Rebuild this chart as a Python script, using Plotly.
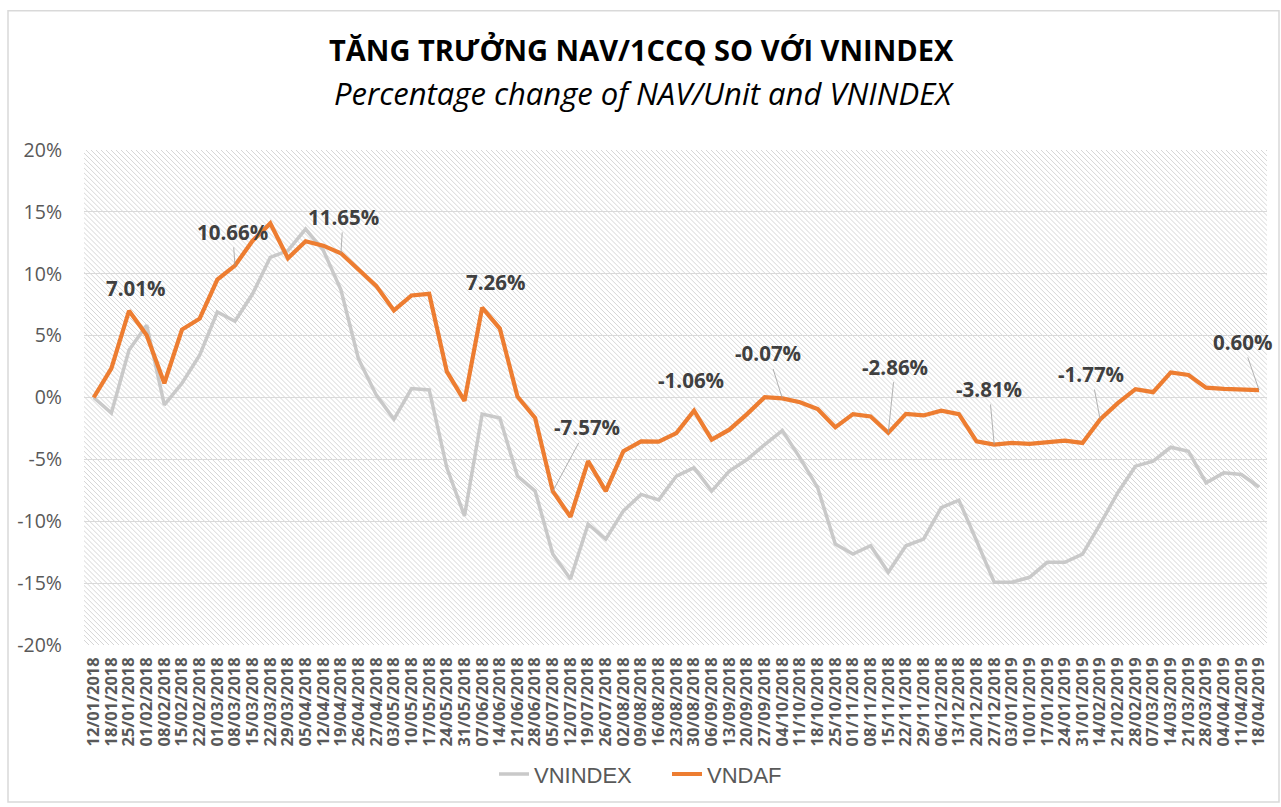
import plotly.graph_objects as go
import urllib.parse

dates = ["12/01/2018","18/01/2018","25/01/2018","01/02/2018","08/02/2018","15/02/2018","22/02/2018",
         "01/03/2018","08/03/2018","15/03/2018","22/03/2018","29/03/2018","05/04/2018","12/04/2018",
         "19/04/2018","26/04/2018","27/04/2018","03/05/2018","10/05/2018","17/05/2018","24/05/2018",
         "31/05/2018","07/06/2018","14/06/2018","21/06/2018","28/06/2018","05/07/2018","12/07/2018",
         "19/07/2018","26/07/2018","02/08/2018","09/08/2018","16/08/2018","23/08/2018","30/08/2018",
         "06/09/2018","13/09/2018","20/09/2018","27/09/2018","04/10/2018","11/10/2018","18/10/2018",
         "25/10/2018","01/11/2018","08/11/2018","15/11/2018","22/11/2018","29/11/2018","06/12/2018",
         "13/12/2018","20/12/2018","27/12/2018","03/01/2019","10/01/2019","17/01/2019","24/01/2019",
         "31/01/2019","14/02/2019","21/02/2019","28/02/2019","07/03/2019","14/03/2019","21/03/2019",
         "28/03/2019","04/04/2019","11/04/2019","18/04/2019"]

vnindex = [0.00, -1.26, 3.83, 5.84, -0.59, 1.15, 3.42, 6.91, 6.16, 8.38, 11.33, 11.87, 13.61, 11.90,
           8.70, 3.10, 0.21, -1.76, 0.72, 0.61, -5.68, -9.57, -1.34, -1.66, -6.35, -7.56, -12.65,
           -14.66, -10.24, -11.45, -9.16, -7.83, -8.27, -6.35, -5.68, -7.56, -5.95, -5.01, -3.81,
           -2.68, -4.88, -7.29, -11.85, -12.65, -11.98, -14.12, -11.98, -11.45, -8.90, -8.30,
           -11.58, -14.93, -14.93, -14.53, -13.32, -13.32, -12.65, -10.24, -7.69, -5.55, -5.14,
           -4.02, -4.34, -6.89, -6.09, -6.22, -7.23]

vndaf = [0.00, 2.36, 7.01, 5.03, 1.15, 5.49, 6.37, 9.53, 10.66, 12.67, 14.07, 11.25, 12.63, 12.27,
         11.65, 10.37, 9.02, 7.04, 8.25, 8.38, 2.09, -0.27, 7.26, 5.57, 0.08, -1.66, -7.57, -9.65,
         -5.14, -7.56, -4.34, -3.54, -3.57, -2.87, -1.06, -3.41, -2.60, -1.34, 0.02, -0.07, -0.38,
         -0.94, -2.41, -1.34, -1.53, -2.86, -1.32, -1.45, -1.07, -1.34, -3.54, -3.81, -3.67, -3.75,
         -3.59, -3.48, -3.67, -1.77, -0.46, 0.67, 0.43, 2.03, 1.82, 0.80, 0.69, 0.61, 0.60]

yticks = [20, 15, 10, 5, 0, -5, -10, -15, -20]

# labelled points of VNDAF and where their labels sit (index units / percent)
label_idx = [2, 8, 14, 22, 26, 34, 39, 45, 51, 57, 66]
label_ax = [2.36, 7.87, 14.13, 22.74, 27.94, 33.82, 38.2, 45.39, 50.71, 56.51, 65.06]
label_ay = [8.84, 13.39, 14.6, 9.37, -2.41, 1.41, 3.56, 2.49, 0.69, 1.9, 4.5]
label_leader = [False, True, True, False, True, False, True, True, True, True, True]

x = list(range(len(dates)))

FONT = "Open Sans"

# plot-area pixel geometry
L, R, T, B = 84, 14, 150, 159
PW, PH = 1281 - L - R, 807 - T - B

# diagonal hatch background as svg
step = 5
lines = []
for k in range(-PH, PW + PH, step):
    lines.append(f'<line x1="{k}" y1="0" x2="{k+PH}" y2="{PH}"/>')
svg = (f'<svg xmlns="http://www.w3.org/2000/svg" width="{PW}" height="{PH}" viewBox="0 0 {PW} {PH}" preserveAspectRatio="none">'
       f'<rect width="{PW}" height="{PH}" fill="white"/>'
       f'<g stroke="#d6d6d6" stroke-width="1">' + "".join(lines) + '</g></svg>')
svg_uri = "data:image/svg+xml;charset=utf-8," + urllib.parse.quote(svg)


def px_x(px):
    return (px - L) / PW


def px_y(py):
    return (T + PH - py) / PH


fig = go.Figure()
fig.add_trace(go.Scatter(x=x, y=vnindex, mode="lines", name="VNINDEX",
                         line=dict(color="#C9C9C9", width=3.5)))
fig.add_trace(go.Scatter(x=x, y=vndaf, mode="lines", name="VNDAF",
                         line=dict(color="#ED7D31", width=4.2)))

annotations = []
lab_font = dict(family=FONT, size=20.5, color="#404040", weight="bold")
for i, ax_, ay_, lead in zip(label_idx, label_ax, label_ay, label_leader):
    txt = f"{vndaf[i]:.2f}%"
    if lead:
        annotations.append(dict(x=i, y=vndaf[i], ax=ax_, ay=ay_, axref="x", ayref="y",
                                xref="x", yref="y", text=txt, showarrow=True, arrowhead=0,
                                arrowwidth=0.8, arrowcolor="#a0a0a0", standoff=0, font=lab_font))
    else:
        annotations.append(dict(x=ax_, y=ay_, xref="x", yref="y", text=txt, showarrow=False,
                                font=lab_font))

annotations.append(dict(x=px_x(641.5), y=px_y(49), xref="paper", yref="paper", showarrow=False,
                        xanchor="center", yanchor="middle",
                        text="<b>TĂNG TRƯỞNG NAV/1CCQ SO VỚI VNINDEX</b>",
                        font=dict(family=FONT, size=29, color="#000000")))
annotations.append(dict(x=px_x(643.5), y=px_y(93), xref="paper", yref="paper", showarrow=False,
                        xanchor="center", yanchor="middle",
                        text="<i>Percentage change of NAV/Unit and VNINDEX</i>",
                        font=dict(family=FONT, size=31, color="#000000")))

fig.update_layout(
    width=1281, height=807,
    margin=dict(l=L, r=R, t=T, b=B),
    paper_bgcolor="white", plot_bgcolor="rgba(0,0,0,0)",
    showlegend=True,
    legend=dict(orientation="h", x=px_x(494), xanchor="left", y=px_y(778), yanchor="middle",
                font=dict(family="Liberation Sans Narrow, Liberation Sans", size=22, color="#595959"),
                entrywidth=128, entrywidthmode="pixels", tracegroupgap=0,
                bgcolor="rgba(0,0,0,0)"),
    annotations=annotations,
    images=[dict(source=svg_uri, xref="paper", yref="paper", x=0, y=1, sizex=1, sizey=1,
                 xanchor="left", yanchor="top", sizing="stretch", layer="below")],
    shapes=[dict(type="rect", xref="paper", yref="paper",
                 x0=px_x(8), x1=px_x(1279), y0=px_y(806), y1=px_y(10),
                 line=dict(color="#d9d9d9", width=1.5), fillcolor="rgba(0,0,0,0)", layer="below")],
    xaxis=dict(range=[-0.55, 66.45], tickmode="array", tickvals=x, ticktext=dates,
               tickangle=-90, showgrid=False, zeroline=False, showline=False,
               ticks="", ticklabelstandoff=8,
               tickfont=dict(family=FONT, size=16.5, color="#595959", weight="bold")),
    yaxis=dict(range=[-20, 20], tickmode="array", tickvals=yticks,
               ticktext=[f"{v}%" for v in yticks], showgrid=True, gridcolor="#d9d9d9",
               gridwidth=1, zeroline=False, showline=False, ticks="", ticklabelstandoff=21,
               tickfont=dict(family=FONT, size=19.5, color="#595959")),
)

fig.write_html("out.html", config={"displayModeBar": False},
               post_script="document.body.style.margin='0';document.body.style.overflow='hidden';")
